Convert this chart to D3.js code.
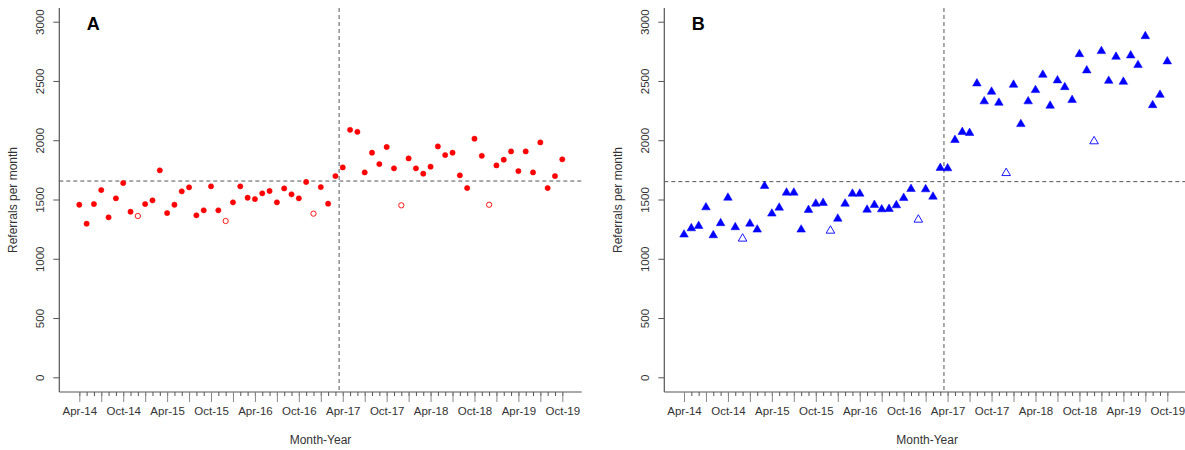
<!DOCTYPE html>
<html>
<head>
<meta charset="utf-8">
<script src="https://cdn.jsdelivr.net/npm/d3@7"></script>
<style>
  body { margin: 0; background: #fff; }
  svg { display: block; font-family: "Liberation Sans", Arial, sans-serif; }
</style>
</head>
<body>
<div id="chart"></div>
<script>
// months Apr-14 .. Oct-19
const fmt = d3.timeFormat("%b-%y");
const months = d3.timeMonth.range(new Date(2014, 3, 1), new Date(2019, 10, 1)).map(fmt);
const tickLabels = ["Apr-14", "Oct-14", "Apr-15", "Oct-15", "Apr-16", "Oct-16", "Apr-17",
  "Oct-17", "Apr-18", "Oct-18", "Apr-19", "Oct-19"];
const quarterTicks = months.filter((m, i) => i % 3 === 0);
const yTicks = [0, 500, 1000, 1500, 2000, 2500, 3000];
const outlierMonths = ["Dec-14", "Dec-15", "Dec-16", "Dec-17", "Dec-18"];
const interventionBetween = ["Mar-17", "Apr-17"];

const seriesA = [1460, 1300, 1466, 1584, 1354, 1514, 1643, 1401, 1365, 1466, 1497, 1750,
  1390, 1460, 1573, 1607, 1371, 1413, 1615, 1413, 1323, 1480, 1615, 1519,
  1508, 1556, 1576, 1480, 1598, 1548, 1514, 1652, 1385, 1609, 1469, 1702,
  1775, 2092, 2075, 1733, 1899, 1803, 1947, 1767, 1455, 1851, 1767, 1722,
  1781, 1952, 1879, 1899, 1708, 1601, 2017, 1873, 1460, 1792, 1840, 1910,
  1744, 1910, 1733, 1986, 1601, 1702, 1843];
const seriesB = [1208, 1261, 1281, 1438, 1202, 1304, 1519, 1270, 1174, 1300, 1250, 1618,
  1385, 1435, 1562, 1562, 1250, 1416, 1469, 1475, 1241, 1342, 1469, 1553,
  1553, 1418, 1458, 1421, 1424, 1455, 1517, 1593, 1334, 1590, 1528, 1770,
  1767, 2006, 2073, 2065, 2483, 2332, 2413, 2320, 1727, 2472, 2140, 2332,
  2427, 2556, 2295, 2509, 2452, 2343, 2730, 2593, 1995, 2756, 2505, 2708,
  2497, 2719, 2638, 2882, 2300, 2387, 2669];
const refLineA = 1660;
const refLineB = 1655;

const W = 1185, H = 450;
const svg = d3.select("#chart").append("svg").attr("width", W).attr("height", H);

const panels = [
  { label: "A", data: seriesA, ref: refLineA, axisX: 59.3, x0: 79.3, x1: 562.3, xEnd: 581.7, color: "#ff0000", shape: "circle" },
  { label: "B", data: seriesB, ref: refLineB, axisX: 664.3, x0: 684, x1: 1167.3, xEnd: 1190, color: "#0000ff", shape: "triangle" }
];

const axisCol = "#555";
const textCol = "#333";

panels.forEach(p => {
  const g = svg.append("g");
  const x = d3.scalePoint().domain(months).range([p.x0, p.x1]);
  const y = d3.scaleLinear().domain([0, 3000]).range([377.8, 22.2]);
  const yBottom = 392, yTop = 8;

  // y axis
  const yAxis = d3.axisLeft(y).tickValues(yTicks).tickSize(6).tickFormat(d3.format("d"));
  const ya = g.append("g").attr("transform", `translate(${p.axisX},0)`).call(yAxis);
  ya.select(".domain").remove();
  ya.selectAll("line").attr("stroke", axisCol);
  ya.selectAll("text")
    .attr("x", 0).attr("y", 0).attr("dy", null)
    .attr("text-anchor", "middle")
    .attr("fill", textCol).attr("font-size", 11.5)
    .each(function(d) { d3.select(this).attr("transform", `translate(-15,${y(d)}) rotate(-90)`); });
  ya.selectAll(".tick").attr("transform", null);
  ya.selectAll(".tick line").attr("transform", d => `translate(0,${y(d)})`);
  g.append("line").attr("x1", p.axisX).attr("x2", p.axisX).attr("y1", yTop).attr("y2", yBottom)
    .attr("stroke", axisCol).attr("stroke-width", 1.2);

  // x axis
  g.append("line").attr("x1", p.axisX).attr("x2", p.xEnd).attr("y1", yBottom).attr("y2", yBottom)
    .attr("stroke", axisCol).attr("stroke-width", 1.2);
  const xMinor = d3.axisBottom(x).tickValues(months).tickSize(4).tickFormat("");
  const xm = g.append("g").attr("transform", `translate(0,${yBottom})`).call(xMinor);
  xm.select(".domain").remove();
  xm.selectAll("line").attr("stroke", axisCol);
  const xMajor = d3.axisBottom(x).tickValues(quarterTicks).tickSize(10)
    .tickFormat(m => tickLabels.includes(m) ? m : "");
  const xa = g.append("g").attr("transform", `translate(0,${yBottom})`).call(xMajor);
  xa.select(".domain").remove();
  xa.selectAll("line").attr("stroke", "#888");
  xa.selectAll("text").attr("y", 15).attr("fill", textCol).attr("font-size", 11.5)
    .attr("font-family", "Liberation Sans, Arial, sans-serif");

  // titles
  const mid = (p.axisX + p.xEnd) / 2;
  g.append("text").attr("x", mid).attr("y", 444).attr("text-anchor", "middle")
    .attr("font-size", 12).attr("fill", textCol).text("Month-Year");
  g.append("text").attr("transform", `translate(${p.axisX - 42},200) rotate(-90)`)
    .attr("text-anchor", "middle").attr("font-size", 12).attr("fill", textCol)
    .text("Referrals per month");
  g.append("text").attr("x", p.axisX + 34).attr("y", 30).attr("text-anchor", "middle")
    .attr("font-size", 18).attr("font-weight", "bold").attr("fill", "#000").text(p.label);

  // reference lines
  const xv = (x(interventionBetween[0]) + x(interventionBetween[1])) / 2;
  g.append("line").attr("x1", xv).attr("x2", xv).attr("y1", yTop).attr("y2", yBottom)
    .attr("stroke", axisCol).attr("stroke-dasharray", "4,3");
  g.append("line").attr("x1", p.axisX).attr("x2", p.xEnd).attr("y1", y(p.ref)).attr("y2", y(p.ref))
    .attr("stroke", axisCol).attr("stroke-dasharray", "4,3");

  // points
  const pts = months.map((m, i) => ({ m, v: p.data[i], open: outlierMonths.includes(m) }));
  const sym = p.shape === "circle" ? d3.symbolCircle : d3.symbolTriangle;
  const size = p.shape === "circle" ? 22 : 32;
  g.selectAll("path.pt").data(pts).enter().append("path")
    .attr("class", "pt")
    .attr("d", d3.symbol().type(sym).size(size))
    .attr("transform", d => `translate(${x(d.m)},${y(d.v)})`)
    .attr("fill", d => d.open ? "none" : p.color)
    .attr("stroke", p.color)
    .attr("stroke-width", d => d.open ? 0.9 : 0.5);
});
</script>
</body>
</html>
